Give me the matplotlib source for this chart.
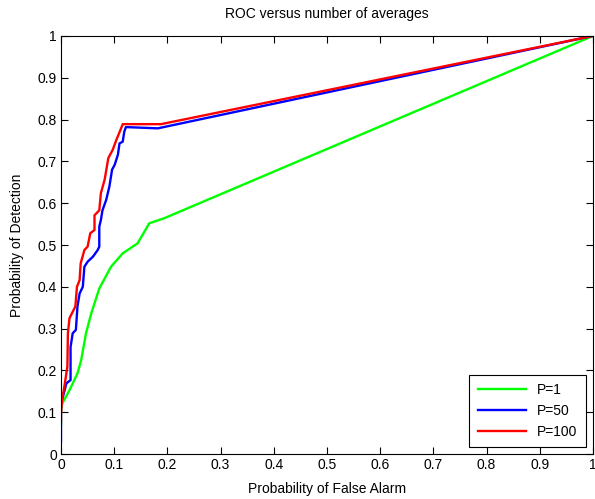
import matplotlib
matplotlib.use("Agg")
import matplotlib.pyplot as plt

# P=1 (green)
pfa_p1 = [0.0, 0.0, 0.002, 0.016, 0.031, 0.038, 0.047, 0.057, 0.072, 0.094, 0.116,
          0.144, 0.166, 0.194, 1.0]
pd_p1 = [0.07, 0.10, 0.12, 0.153, 0.193, 0.225, 0.289, 0.337, 0.396, 0.448, 0.480,
         0.504, 0.552, 0.564, 1.0]

# P=50 (blue)
pfa_p50 = [0.0, 0.0, 0.0, 0.007, 0.010, 0.018, 0.018, 0.022, 0.028, 0.031, 0.035, 0.041,
           0.044, 0.050, 0.060, 0.069, 0.072, 0.072, 0.075, 0.078, 0.085, 0.091, 0.096,
           0.101, 0.107, 0.110, 0.116, 0.119, 0.122, 0.182, 1.0]
pd_p50 = [0.03, 0.037, 0.121, 0.153, 0.169, 0.177, 0.256, 0.289, 0.297, 0.353, 0.384, 0.400,
          0.448, 0.460, 0.472, 0.488, 0.496, 0.544, 0.560, 0.583, 0.608, 0.640, 0.680,
          0.692, 0.716, 0.743, 0.747, 0.771, 0.782, 0.779, 1.0]

# P=100 (red)
pfa_p100 = [0.0, 0.0, 0.002, 0.007, 0.012, 0.013, 0.016, 0.027, 0.030, 0.035, 0.037,
            0.044, 0.050, 0.055, 0.063, 0.063, 0.072, 0.075, 0.082, 0.089, 0.097, 0.104,
            0.113, 0.116, 0.188, 1.0]
pd_p100 = [0.08, 0.097, 0.129, 0.167, 0.209, 0.289, 0.325, 0.353, 0.400, 0.416, 0.456,
           0.488, 0.496, 0.528, 0.536, 0.571, 0.583, 0.624, 0.656, 0.708, 0.727, 0.751,
           0.779, 0.789, 0.789, 1.0]

series_labels = ["P=1", "P=50", "P=100"]
xticks = [0, 0.1, 0.2, 0.3, 0.4, 0.5, 0.6, 0.7, 0.8, 0.9, 1]
yticks = [0, 0.1, 0.2, 0.3, 0.4, 0.5, 0.6, 0.7, 0.8, 0.9, 1]
tick_labels = ["0", "0.1", "0.2", "0.3", "0.4", "0.5", "0.6", "0.7", "0.8", "0.9", "1"]

plt.rcParams['font.family'] = ['Liberation Sans', 'DejaVu Sans']

fig = plt.figure(figsize=(5.95, 4.99), dpi=100)
ax = fig.add_axes([0.1025, 0.090, 0.894, 0.838])

ax.plot(pfa_p1, pd_p1, color=(0, 1, 0), lw=1.7, label=series_labels[0])
ax.plot(pfa_p50, pd_p50, color=(0, 0, 1), lw=1.7, label=series_labels[1])
ax.plot(pfa_p100, pd_p100, color=(1, 0, 0), lw=1.7, label=series_labels[2])

ax.set_xlim(0, 1)
ax.set_ylim(0, 1)
ax.set_xticks(xticks)
ax.set_xticklabels(tick_labels)
ax.set_yticks(yticks)
ax.set_yticklabels(tick_labels)
ax.tick_params(direction='in', top=True, right=True, length=5, width=0.8,
               labelsize=10, pad=3)
for s in ax.spines.values():
    s.set_linewidth(0.8)

ax.set_title("ROC versus number of averages", fontsize=10, pad=13)
ax.set_xlabel("Probability of False Alarm", fontsize=10, labelpad=7)
ax.set_ylabel("Probability of Detection", fontsize=10, labelpad=10)

leg = ax.legend(loc='lower right', fontsize=10, fancybox=False, edgecolor='black',
                framealpha=1, handlelength=3.5, borderaxespad=0.5,
                borderpad=0.6)
leg.get_frame().set_linewidth(0.8)

fig.savefig("out.png", dpi=100)
